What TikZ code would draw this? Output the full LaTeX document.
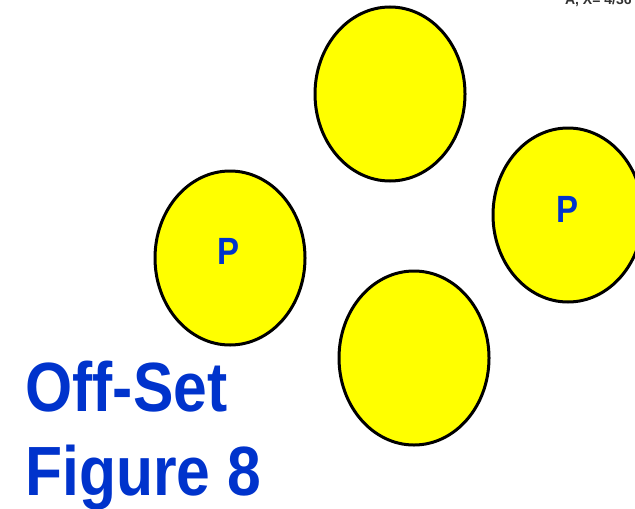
\documentclass[tikz,border=0pt]{standalone}
\usepackage{fontspec}
\setmainfont{Liberation Sans}
\usetikzlibrary{shapes.geometric}
\definecolor{titleblue}{RGB}{0,51,204}
\definecolor{ovalyellow}{RGB}{255,255,0}
\newcommand{\tallify}[1]{\scalebox{1}[1.15]{#1}}
\begin{document}
\begin{tikzpicture}[x=0.5pt, y=-0.5pt, font=\bfseries]
\tikzstyle{oval}=[ellipse, draw=black, line width=1.5pt, fill=ovalyellow, minimum width=75pt, minimum height=87pt, inner sep=0pt]
\tikzstyle{plabel}=[titleblue, font=\bfseries\fontsize{16.5}{18}\selectfont, inner sep=0pt]
\tikzstyle{title}=[titleblue, anchor=base west, inner sep=0pt, font=\bfseries\fontsize{30.3}{36}\selectfont]
\useasboundingbox (0,0) rectangle (635,508);
\clip (0,0) rectangle (635,508);

% the four ovals
\node[oval] (ovalTop) at (390,94) {};
\node[oval] (ovalLeft) at (230,258) {};
\node[oval] (ovalRight) at (568,215) {};
\node[oval] (ovalBottom) at (414,358) {};
\node[plabel] (pLeft) at (229,251) {\tallify{P}};
\node[plabel] (pRight) at (567,209) {\tallify{P}};

% caption
\node[title] (titleOne) at (25,411) {\tallify{Off-Set}};
\node[title] (titleTwo) at (25,495) {\tallify{Figure 8}};
\node[black!80, anchor=base east, inner sep=0pt, font=\bfseries\fontsize{7}{8}\selectfont] (corner) at (632,5) {A, X= 4/36};
\end{tikzpicture}
\end{document}
